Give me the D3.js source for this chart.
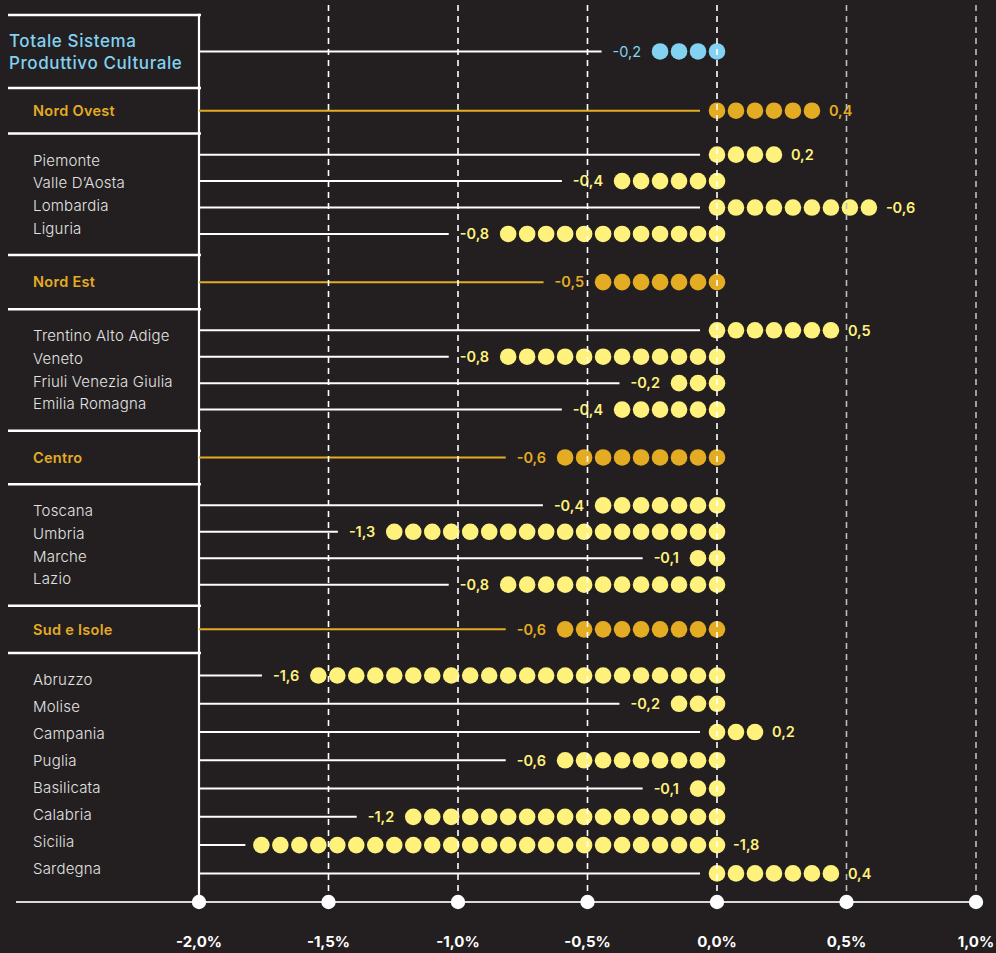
<!DOCTYPE html>
<html><head><meta charset="utf-8">
<script src="https://cdn.jsdelivr.net/npm/d3@7"></script>
<style>
html,body{margin:0;padding:0;background:#231f20;}
svg{display:block;}
text{font-family:Inter,"Noto Sans",sans-serif;}
</style></head><body>
<svg id="chart" width="996" height="953"></svg>
<script>
// ---------- DATA ----------
const rowLabels = ["Totale Sistema Produttivo Culturale","Nord Ovest","Piemonte","Valle D’Aosta","Lombardia","Liguria",
  "Nord Est","Trentino Alto Adige","Veneto","Friuli Venezia Giulia","Emilia Romagna",
  "Centro","Toscana","Umbria","Marche","Lazio",
  "Sud e Isole","Abruzzo","Molise","Campania","Puglia","Basilicata","Calabria","Sicilia","Sardegna"];
const rowTypes = ["totale","area","regione","regione","regione","regione",
  "area","regione","regione","regione","regione",
  "area","regione","regione","regione","regione",
  "area","regione","regione","regione","regione","regione","regione","regione","regione"];
const valueLabels = ["-0,2","0,4","0,2","-0,4","-0,6","-0,8",
  "-0,5","0,5","-0,8","-0,2","-0,4",
  "-0,6","-0,4","-1,3","-0,1","-0,8",
  "-0,6","-1,6","-0,2","0,2","-0,6","-0,1","-1,2","-1,8","0,4"];
// number of dots per row (sign = direction from 0)
const dotCounts = [-4, 6, 4, -6, 9, -12,
  -7, 7, -12, -3, -6,
  -9, -7, -18, -2, -12,
  -9, -22, -3, 3, -9, -2, -17, -25, 7];
const tickValues = [-2, -1.5, -1, -0.5, 0, 0.5, 1];
const tickLabels = ["-2,0%","-1,5%","-1,0%","-0,5%","0,0%","0,5%","1,0%"];

// ---------- SETUP ----------
const W = 996, H = 953;
const BG = "#231f20";
const colors = {totale:"#82d2f2", area:"#e3ac23", regione:"#fff27c"};
const svg = d3.select("#chart");
svg.append("rect").attr("width", W).attr("height", H).attr("fill", BG);

const x = d3.scaleLinear().domain([-2, 1]).range([199, 976]);
const dotStep = 0.0733;   // % per dot
const dotR = 8.3;
const axisY = 902;
const headerUnits = [1.5, 1.78, 1.76, 1.55];

// ---------- LAYOUT (sections) ----------
const sections = [];
let u = 0, areaIdx = 0;
rowTypes.forEach((t, i) => {
  if (t === "totale") { sections.push({type:"totale", start:u, size:2.4, rows:[i]}); u += 2.4; }
  else if (t === "area") {
    const hs = headerUnits[areaIdx++];
    sections.push({type:"area", start:u, size:hs, rows:[i]}); u += hs;
    sections.push({type:"block", start:u, size:0, rows:[]});
  } else { const b = sections[sections.length - 1]; b.rows.push(i); b.size += 1; u += 1; }
});
const y = d3.scaleLinear().domain([0, u]).range([15, 896]);
const rowY = new Array(rowLabels.length);
sections.forEach(s => {
  if (s.type !== "block") rowY[s.rows[0]] = y(s.start + s.size / 2);
  else {
    const n = s.rows.length, st = n / (n - 1 + 1.6);
    s.rows.forEach((r, k) => rowY[r] = y(s.start + 0.8 * st + k * st));
  }
});

// ---------- LEFT PANEL ----------
const left = svg.append("g");
sections.forEach(s => {
  left.append("line").attr("x1", 8).attr("x2", 201)
    .attr("y1", y(s.start)).attr("y2", y(s.start))
    .attr("stroke", "#fff").attr("stroke-width", 2.5);
});
left.append("line").attr("x1", x(-2)).attr("x2", x(-2)).attr("y1", y(0) - 1.2).attr("y2", axisY)
  .attr("stroke", "#fff").attr("stroke-width", 2.2);

sections.forEach(s => {
  if (s.type === "totale") {
    const words = rowLabels[s.rows[0]].split(" ");
    const lines = [words.slice(0, 2).join(" "), words.slice(2).join(" ")];
    const cy = y(s.start + s.size / 2);
    lines.forEach((ln, k) => {
      left.append("text").attr("x", 9).attr("y", cy + (k ? 11 : -11)).attr("dy", "0.36em")
        .attr("fill", colors.totale).attr("font-size", 17).attr("font-weight", 500)
        .attr("letter-spacing", 0.6).text(ln);
    });
  } else if (s.type === "area") {
    left.append("text").attr("x", 33).attr("y", y(s.start + s.size / 2)).attr("dy", "0.36em")
      .attr("fill", colors.area).attr("font-size", 14.5).attr("font-weight", 600)
      .attr("letter-spacing", 0.3).text(rowLabels[s.rows[0]]);
  } else {
    const n = s.rows.length;
    const lead = n > 4 ? 27 : 22.7;
    const cy = y(s.start + s.size / 2);
    s.rows.forEach((r, k) => {
      left.append("text").attr("x", 33).attr("y", cy + (k - (n - 1) / 2) * lead).attr("dy", "0.36em")
        .attr("fill", "#e2e2e2").attr("font-size", 15).attr("font-weight", 300)
        .attr("letter-spacing", 0.2).text(rowLabels[r]);
    });
  }
});

// ---------- ROWS ----------
const rowsG = svg.append("g");
rowLabels.forEach((name, i) => {
  const n = Math.abs(dotCounts[i]), dir = Math.sign(dotCounts[i]);
  const t = rowTypes[i];
  const col = colors[t];
  const yy = rowY[i];
  const g = rowsG.append("g");
  const dotVals = d3.range(n).map(k => dir * k * dotStep);
  const extreme = x(dir * (n - 1) * dotStep);
  const lab = g.append("text").text(valueLabels[i]).attr("y", yy).attr("dy", "0.36em")
    .attr("fill", col).attr("font-size", 14.5).attr("font-weight", t === "totale" ? 400 : 600);
  let lineEnd;
  if (dir > 0) {
    lab.attr("x", extreme + 17).attr("text-anchor", "start");
    lineEnd = x(0) - 17;
  } else {
    const w = lab.node().getComputedTextLength();
    const labEnd = extreme - 19, labStart = labEnd - w;
    if (labStart - 11 - x(-2) < 40) {
      lab.attr("x", x(0) + 16).attr("text-anchor", "start");
      lineEnd = extreme - 16;
    } else {
      lab.attr("x", labEnd).attr("text-anchor", "end");
      lineEnd = labStart - 11;
    }
  }
  g.append("line").attr("x1", x(-2)).attr("x2", lineEnd).attr("y1", yy).attr("y2", yy)
    .attr("stroke", t === "area" ? colors.area : "#fff").attr("stroke-width", 2);
  g.selectAll("circle").data(dotVals).join("circle")
    .attr("cx", d => x(d)).attr("cy", yy).attr("r", dotR).attr("fill", col);
});

// ---------- GRID (on top) ----------
const grid = svg.append("g");
grid.selectAll("line").data(tickValues.filter(v => v > -2)).join("line")
  .attr("x1", d => x(d)).attr("x2", d => x(d)).attr("y1", 5).attr("y2", axisY - 6)
  .attr("stroke", d => d > 0 ? "#bdbdbd" : "#fff").attr("stroke-width", 1.6)
  .attr("stroke-dasharray", "6,5");

// ---------- X AXIS ----------
const axisG = svg.append("g");
axisG.append("line").attr("x1", 16).attr("x2", x(1)).attr("y1", axisY).attr("y2", axisY)
  .attr("stroke", "#d8d8d8").attr("stroke-width", 2.2);
axisG.selectAll("circle").data(tickValues).join("circle")
  .attr("cx", d => x(d)).attr("cy", axisY).attr("r", 7.2).attr("fill", "#fff");
axisG.selectAll("text").data(tickValues).join("text")
  .attr("x", d => x(d)).attr("y", 947).attr("text-anchor", "middle")
  .attr("fill", "#fff").attr("font-size", 15).attr("font-weight", 700)
  .text((d, i) => tickLabels[i]);
</script>
</body></html>
